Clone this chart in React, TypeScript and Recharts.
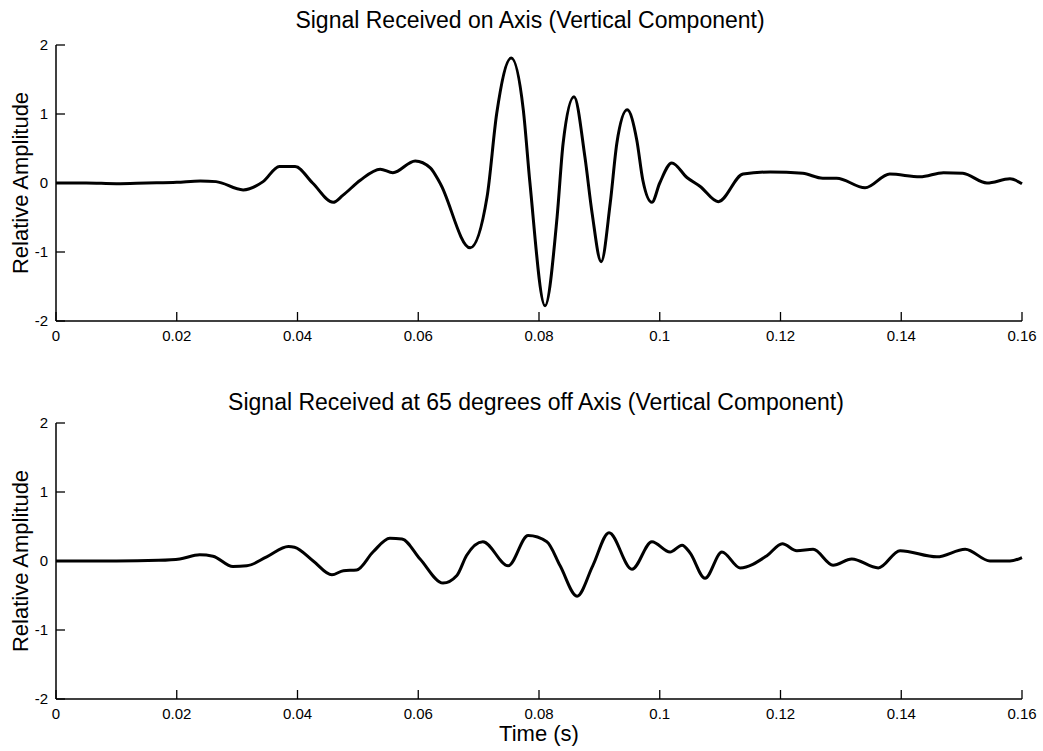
import { LineChart, Line, XAxis, YAxis } from "recharts"

// time axis and amplitude axis ticks
const xTicks = [0, 0.02, 0.04, 0.06, 0.08, 0.1, 0.12, 0.14, 0.16]
const yTicks = [-2, -1, 0, 1, 2]

// Signal received on axis
const onAxisTime = [
  0, 0.005, 0.01, 0.015, 0.02, 0.0239, 0.0265, 0.031, 0.0343, 0.037, 0.0396, 0.0425,
  0.0459, 0.0475, 0.0504, 0.0537, 0.0558, 0.0595, 0.062, 0.0636, 0.0686, 0.0714, 0.073,
  0.0754, 0.0774, 0.0785, 0.081, 0.083, 0.084, 0.0858, 0.0876, 0.0888, 0.0903, 0.0918,
  0.0929, 0.0946, 0.0962, 0.0972, 0.0987, 0.1, 0.102, 0.1045, 0.1067, 0.1097, 0.1138,
  0.1183, 0.1237, 0.127, 0.1293, 0.134, 0.1381, 0.1431, 0.147, 0.1502, 0.1542, 0.158, 0.16,
]
const onAxisAmp = [
  0, 0, -0.01, 0, 0.01, 0.03, 0.02, -0.1, 0.02, 0.24, 0.24, 0,
  -0.28, -0.18, 0.04, 0.2, 0.15, 0.32, 0.22, 0, -0.94, -0.2, 1.01,
  1.81, 1.06, 0, -1.78, -0.49, 0.58, 1.25, 0.38, -0.44, -1.14, -0.29,
  0.58, 1.06, 0.62, 0.04, -0.28, 0, 0.29, 0.08, -0.05, -0.27, 0.13,
  0.16, 0.14, 0.07, 0.07, -0.07, 0.13, 0.09, 0.15, 0.14, 0, 0.06, -0.01,
]

// Signal received at 65 degrees off axis (bottom panel)
const offAxisTime = [
  0, 0.01, 0.017, 0.0205, 0.0238, 0.026, 0.0293, 0.0316, 0.0349, 0.0385, 0.0395, 0.0426,
  0.0457, 0.0476, 0.0498, 0.0525, 0.0553, 0.0573, 0.0603, 0.0641, 0.0664, 0.068, 0.0707,
  0.0749, 0.0782, 0.0813, 0.0835, 0.0863, 0.0889, 0.0916, 0.0954, 0.0987, 0.1017, 0.1037,
  0.105, 0.1075, 0.1103, 0.1133, 0.1178, 0.1203, 0.1227, 0.1254, 0.1287, 0.1318, 0.1362,
  0.1398, 0.1459, 0.1506, 0.1547, 0.158, 0.16,
]
const offAxisAmp = [
  0, 0, 0.01, 0.03, 0.09, 0.07, -0.08, -0.07, 0.06, 0.21, 0.2, 0,
  -0.2, -0.14, -0.13, 0.13, 0.33, 0.32, 0.03, -0.32, -0.21, 0.08, 0.28,
  -0.07, 0.37, 0.28, -0.07, -0.51, -0.07, 0.41, -0.12, 0.28, 0.13, 0.23,
  0.12, -0.25, 0.13, -0.1, 0.08, 0.25, 0.15, 0.17, -0.06, 0.03, -0.1,
  0.15, 0.06, 0.17, 0, 0, 0.05,
]

const FONT = "'Liberation Sans', Arial, Helvetica, sans-serif"

function YTick({ x, y, payload }: any) {
  return (
    <text x={x} y={y} dy="0.36em" textAnchor="end" fontSize={15} fill="#000" fontFamily={FONT}>
      {payload.value}
    </text>
  )
}

function XTick({ x, y, payload }: any) {
  return (
    <text x={x} y={y} dy="0.71em" textAnchor="middle" fontSize={15} fill="#000" fontFamily={FONT}>
      {String(payload.value)}
    </text>
  )
}

function yLabel({ viewBox }: any) {
  const cx = 20
  const cy = viewBox.y + viewBox.height / 2
  return (
    <text
      x={cx}
      y={cy}
      dy="0.36em"
      textAnchor="middle"
      transform={`rotate(-90, ${cx}, ${cy})`}
      fontSize={22}
      fill="#000"
      fontFamily={FONT}
    >
      Relative Amplitude
    </text>
  )
}

function xLabel({ viewBox }: any) {
  return (
    <text
      x={viewBox.x + viewBox.width / 2}
      y={363}
      dy="0.36em"
      textAnchor="middle"
      fontSize={22}
      fill="#000"
      fontFamily={FONT}
    >
      Time (s)
    </text>
  )
}

// ticks point into the plot (negative tick size), labels stay outside
function SignalPanel({ time, amp, height, margin, showTime }: any) {
  const data = time.map((t: number, i: number) => ({ t, amp: amp[i] }))
  return (
    <LineChart width={1043} height={height} data={data} margin={margin}>
      <XAxis
        dataKey="t"
        type="number"
        domain={[0, 0.16]}
        ticks={xTicks}
        height={30}
        tickSize={-9}
        tickMargin={18}
        tickLine={{ stroke: "#000", strokeWidth: 1.3 }}
        tick={<XTick />}
        axisLine={{ stroke: "#000", strokeWidth: 1.5 }}
        label={showTime ? { content: xLabel } : undefined}
      />
      <YAxis
        type="number"
        domain={[-2, 2]}
        ticks={yTicks}
        width={56}
        tickSize={-9}
        tickMargin={17}
        tickLine={{ stroke: "#000", strokeWidth: 1.3 }}
        tick={<YTick />}
        axisLine={{ stroke: "#000", strokeWidth: 1.5 }}
        label={{ content: yLabel }}
      />
      <Line
        type="monotone"
        dataKey="amp"
        stroke="#000"
        strokeWidth={3}
        dot={false}
        isAnimationActive={false}
      />
    </LineChart>
  )
}

const titleStyle = (top: number, center: number): React.CSSProperties => ({
  position: "absolute",
  top,
  left: center - 400,
  width: 800,
  textAlign: "center",
  fontSize: 23,
  lineHeight: "23px",
  fontFamily: FONT,
  color: "#000",
})

export default function App() {
  return (
    <div
      style={{
        position: "absolute",
        left: 0,
        top: 0,
        width: 1043,
        height: 751,
        background: "#fff",
        fontFamily: FONT,
      }}
    >
      <div style={{ position: "absolute", left: 0, top: 0 }}>
        <SignalPanel
          time={onAxisTime}
          amp={onAxisAmp}
          height={370}
          margin={{ top: 45, right: 21, bottom: 19, left: 0 }}
          showTime={false}
        />
      </div>
      <div style={{ position: "absolute", left: 0, top: 370 }}>
        <SignalPanel
          time={offAxisTime}
          amp={offAxisAmp}
          height={381}
          margin={{ top: 53, right: 21, bottom: 22, left: 0 }}
          showTime={true}
        />
      </div>
      <div style={titleStyle(9, 530)}>Signal Received on Axis (Vertical Component)</div>
      <div style={titleStyle(391, 536)}>
        Signal Received at 65 degrees off Axis (Vertical Component)
      </div>
    </div>
  )
}
